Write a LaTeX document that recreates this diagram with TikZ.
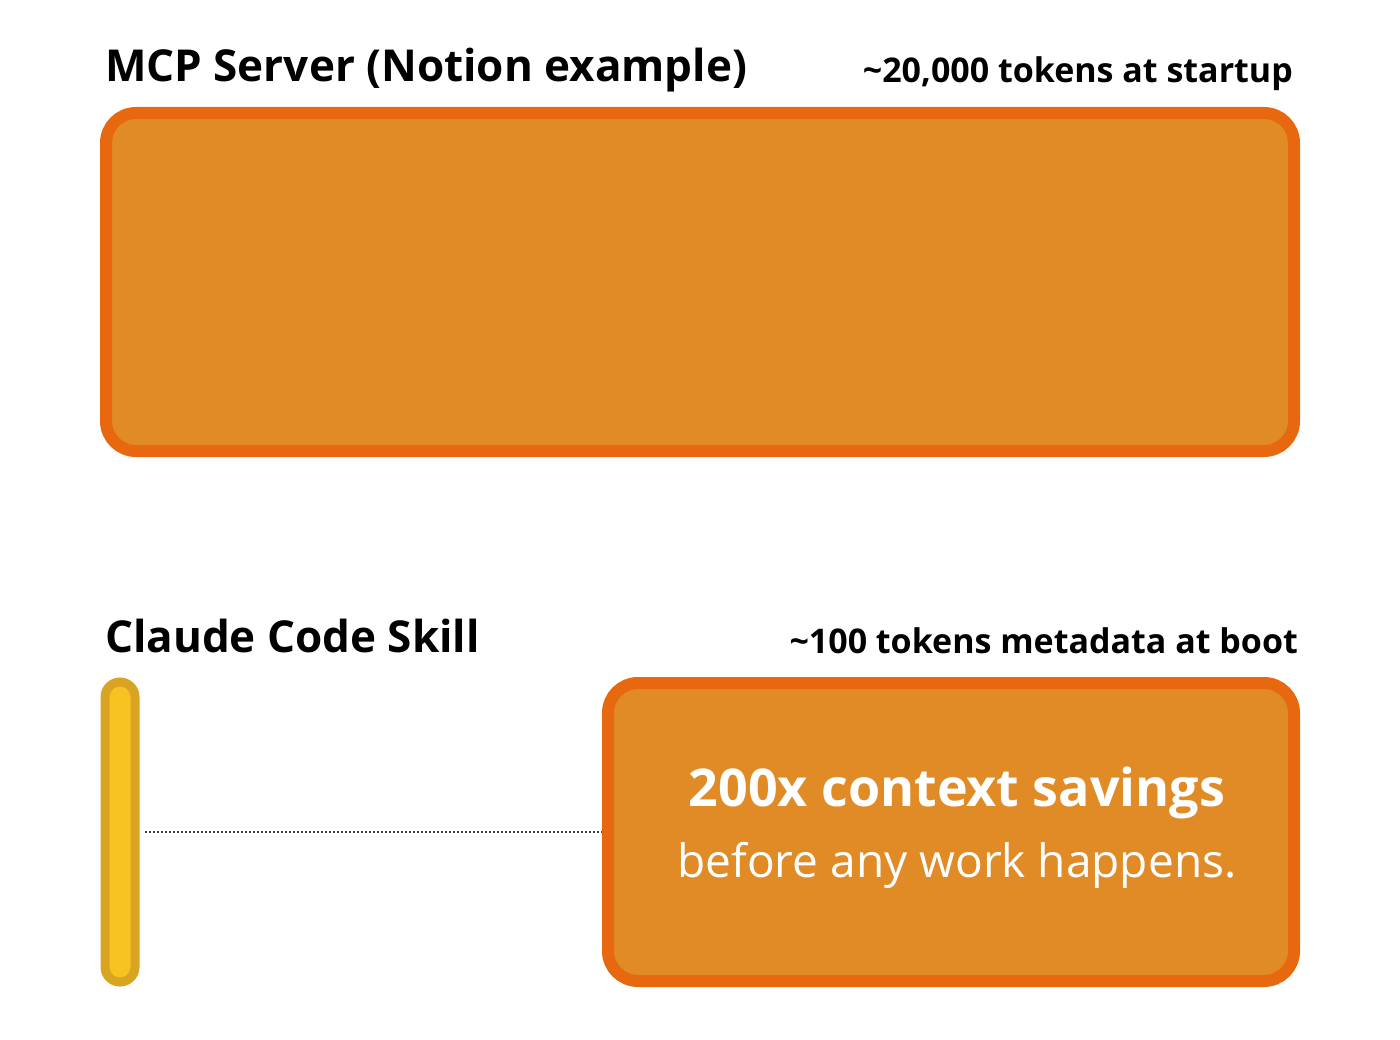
\documentclass[tikz,border=0pt]{standalone}
\usepackage{fontspec}
\setmainfont{Open Sans}
\definecolor{ofill}{HTML}{E08B26}
\definecolor{oline}{HTML}{E8680F}
\definecolor{yfill}{HTML}{F6C323}
\definecolor{yline}{HTML}{D9A421}
\begin{document}
\begin{tikzpicture}[x=1pt,y=-1pt,
  obox/.style={draw=oline,fill=ofill,line width=12pt,rounded corners=30pt},
  title/.style={font=\bfseries\fontsize{44}{50}\selectfont,anchor=base west,inner sep=0},
  note/.style={font=\bfseries\fontsize{34}{40}\selectfont,anchor=base east,inner sep=0}]
\useasboundingbox (0,0) rectangle (1400,1040);
\node[title] (t1) at (105,82) {MCP Server (Notion example)};
\node[note] (n1) at (1293,83) {\textasciitilde 20,000 tokens at startup};
\draw[obox] (106,113) rectangle (1294,451);
\node[title] (t2) at (105,652) {Claude Code Skill};
\node[note] (n2) at (1298,653) {\textasciitilde 100 tokens metadata at boot};
\node[draw=yline,fill=yfill,line width=9pt,rounded corners=15pt,minimum width=30pt,minimum height=300pt,inner sep=0] (bar) at (120,832) {};
\node[obox,minimum width=686pt,minimum height=298pt,inner sep=0] (b2) at (951,832) {};
\coordinate (d1) at (145,832);
\draw[line width=2pt,dotted,black!75] (d1) -- (b2.west);
\node[text=white,font=\bfseries\fontsize{52}{60}\selectfont] (s1) at (957,793) {200x context savings};
\node[text=white,font=\fontsize{46}{54}\selectfont] (s2) at (957,865) {before any work happens.};
\end{tikzpicture}
\end{document}
